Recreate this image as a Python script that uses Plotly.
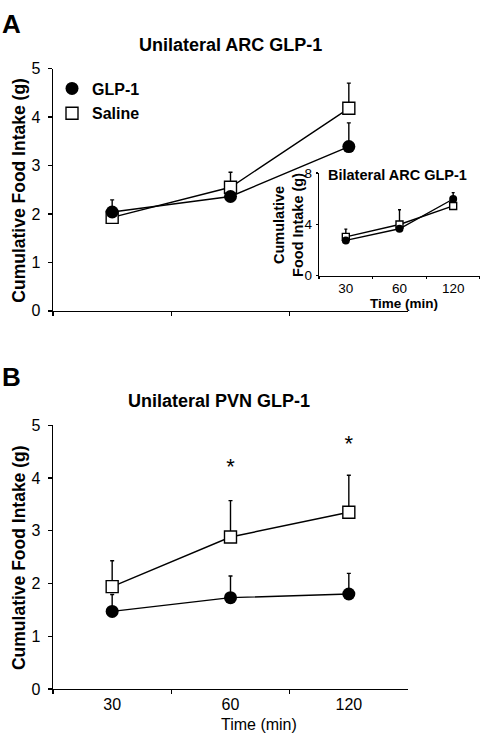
import plotly.graph_objects as go

# ---------------- data ----------------
times = ["30", "60", "120"]

# Panel A: Unilateral ARC GLP-1
a_glp1 = [2.04, 2.36, 3.39]
a_glp1_err = [0.25, 0.08, 0.49]
a_saline = [1.93, 2.55, 4.18]
a_saline_err = [0.08, 0.31, 0.52]

# Inset: Bilateral ARC GLP-1
in_glp1 = [2.75, 3.66, 5.98]
in_glp1_err = [0.2, 0.2, 0.5]
in_saline = [3.03, 3.99, 5.44]
in_saline_err = [0.6, 1.15, 0.2]

# Panel B: Unilateral PVN GLP-1
b_glp1 = [1.47, 1.73, 1.80]
b_glp1_err = [0.32, 0.41, 0.39]
b_saline = [1.94, 2.88, 3.35]
b_saline_err = [0.49, 0.69, 0.70]

sig_times = ["60", "120"]
sig_y = [4.18, 4.62]

FONT = "Arial, Liberation Sans, sans-serif"
W, H = 480, 738


def px_x(p):
    return p / W


def px_y(p):
    return 1 - p / H


fig = go.Figure()


def add_pair(xa, ya, glp, glp_err, sal, sal_err, msize, lw, capw):
    fig.add_trace(go.Scatter(
        x=times, y=sal, xaxis=xa, yaxis=ya, mode="lines+markers",
        line=dict(color="black", width=lw),
        marker=dict(symbol="square", size=msize - 1, color="white",
                    line=dict(color="black", width=1.4)),
        error_y=dict(type="data", symmetric=False, array=sal_err,
                     arrayminus=[0] * len(sal_err), color="black",
                     thickness=1.4, width=capw),
        showlegend=False))
    fig.add_trace(go.Scatter(
        x=times, y=glp, xaxis=xa, yaxis=ya, mode="lines+markers",
        line=dict(color="black", width=lw),
        marker=dict(symbol="circle", size=msize, color="black"),
        error_y=dict(type="data", symmetric=False, array=glp_err,
                     arrayminus=[0] * len(glp_err), color="black",
                     thickness=1.4, width=capw),
        showlegend=False))


add_pair("x", "y", a_glp1, a_glp1_err, a_saline, a_saline_err, 13, 1.4, 2)
add_pair("x2", "y2", in_glp1, in_glp1_err, in_saline, in_saline_err, 8, 1.4, 1.5)
add_pair("x3", "y3", b_glp1, b_glp1_err, b_saline, b_saline_err, 13, 1.4, 2)

# significance stars
fig.add_trace(go.Scatter(
    x=sig_times, y=sig_y, xaxis="x3", yaxis="y3", mode="text",
    text=["*"] * len(sig_times), textfont=dict(family=FONT, size=22, color="black"),
    showlegend=False))

# legend-only entries
fig.add_trace(go.Scatter(
    x=[None], y=[None], mode="markers", name="<b>GLP-1</b>",
    marker=dict(symbol="circle", size=13, color="black"), legendgroup="g1"))
fig.add_trace(go.Scatter(
    x=[None], y=[None], mode="markers", name="<b>Saline</b>",
    marker=dict(symbol="square", size=12, color="white",
                line=dict(color="black", width=1.4)), legendgroup="g2"))

axis_common = dict(showline=True, linecolor="black", linewidth=1.3,
                   showgrid=False, zeroline=False, ticks="outside",
                   tickcolor="black", tickwidth=1.3,
                   tickfont=dict(family=FONT, size=16, color="black"))
inset_font = dict(family=FONT, size=13.5, color="black")

main_x = [px_x(53), px_x(408)]

fig.update_layout(
    width=W, height=H,
    margin=dict(l=0, r=0, t=0, b=0),
    paper_bgcolor="white", plot_bgcolor="rgba(0,0,0,0)",
    font=dict(family=FONT, color="black"),
    showlegend=True,
    legend=dict(x=px_x(52), y=px_y(65), xanchor="left", yanchor="top",
                bgcolor="rgba(0,0,0,0)", font=dict(family=FONT, size=16, color="black"),
                tracegroupgap=1, itemsizing="trace"),
    xaxis=dict(**axis_common, domain=main_x, anchor="y", type="category",
               categoryorder="array", categoryarray=times,
               range=[-0.5, 2.5], tickson="boundaries", ticklen=4,
               showticklabels=False),
    yaxis=dict(**axis_common, domain=[px_y(310), px_y(62)], anchor="x",
               range=[0, 5], dtick=1, ticklen=4, ticklabelstandoff=4),
    xaxis2=dict(**{**axis_common, "tickfont": inset_font},
                domain=[px_x(319), 1.0], anchor="y2", type="category",
                categoryorder="array", categoryarray=times,
                range=[-0.5, 2.5], tickson="boundaries", ticklen=2,
                ticklabelstandoff=0),
    yaxis2=dict(**{**axis_common, "tickfont": inset_font},
                domain=[px_y(274), px_y(169)], anchor="x2",
                range=[0, 8], tickvals=[0, 4, 8], ticklen=2, ticklabelstandoff=1),
    xaxis3=dict(**axis_common, domain=main_x, anchor="y3", type="category",
                categoryorder="array", categoryarray=times,
                range=[-0.5, 2.5], tickson="boundaries", ticklen=4,
                ticklabelstandoff=1),
    yaxis3=dict(**axis_common, domain=[px_y(697), px_y(427)], anchor="x3",
                range=[0, 5], dtick=1, ticklen=4, ticklabelstandoff=4),
)

annots = [
    dict(text="<b>A</b>", x=px_x(11), y=px_y(16), size=26),
    dict(text="<b>B</b>", x=px_x(11), y=px_y(378), size=26),
    dict(text="<b>Unilateral ARC GLP-1</b>", x=px_x(230), y=px_y(38), size=18),
    dict(text="<b>Unilateral PVN GLP-1</b>", x=px_x(219), y=px_y(402), size=18),
    dict(text="<b>Cumulative Food Intake (g)</b>", x=px_x(19), y=px_y(187), size=17.5, angle=-90),
    dict(text="<b>Cumulative Food Intake (g)</b>", x=px_x(19), y=px_y(563), size=17.5, angle=-90),
    dict(text="<b>Bilateral ARC GLP-1</b>", x=px_x(397), y=px_y(171), size=14.5),
    dict(text="<b>Cumulative<br>Food Intake (g)</b>", x=px_x(289), y=px_y(222), size=14.5, angle=-90),
    dict(text="<b>Time (min)</b>", x=px_x(404), y=px_y(302), size=13.5),
    dict(text="Time (min)", x=px_x(259), y=px_y(733), size=16),
]
for a in annots:
    fig.add_annotation(text=a["text"], x=a["x"], y=a["y"], xref="paper", yref="paper",
                       xanchor="center", yanchor="middle", showarrow=False,
                       textangle=a.get("angle", 0),
                       font=dict(family=FONT, size=a["size"], color="black"))

# the page's default 8px body margin would shift the figure; remove it
fig.write_html("out.html",
               config={"displayModeBar": False, "staticPlot": True},
               post_script="document.body.style.margin='0';document.body.style.overflow='hidden';")
